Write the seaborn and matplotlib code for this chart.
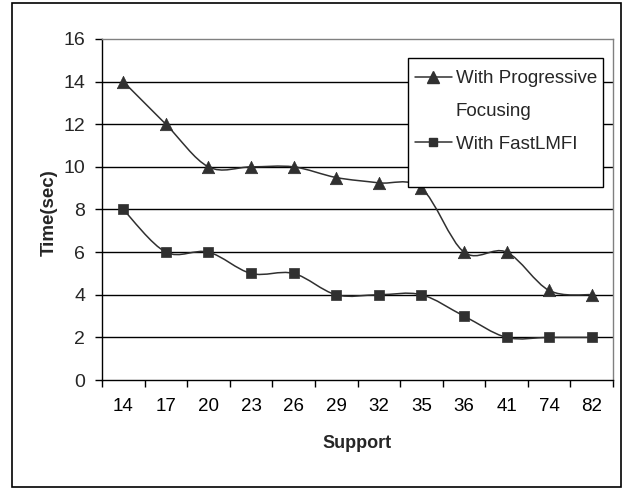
import numpy as np
import seaborn as sns
import matplotlib
matplotlib.use('Agg')
import matplotlib.pyplot as plt
from matplotlib.path import Path
from matplotlib.patches import PathPatch, Rectangle
from matplotlib.lines import Line2D

# Data

support = ['14', '17', '20', '23', '26', '29', '32', '35', '36', '41', '74', '82']
progressive = [14, 12, 10, 10, 10, 9.5, 9.25, 9, 6, 6, 4.2, 4]
fastlmfi = [8, 6, 6, 5, 5, 4, 4, 4, 3, 2, 2, 2]
y_ticks = [0, 2, 4, 6, 8, 10, 12, 14, 16]

sns.set_theme(style='white')
plt.rcParams['font.family'] = ['Liberation Sans', 'DejaVu Sans']

dark = '#303030'


# Excel style smoothed line through the points (bezier segments)

def smooth_path(xs, ys):
    pts = np.column_stack([xs, ys]).astype(float)
    n = len(pts)
    verts = [pts[0]]
    codes = [Path.MOVETO]
    for i in range(n - 1):
        p0 = pts[i - 1] if i > 0 else pts[i]
        p3 = pts[i + 2] if i + 2 < n else pts[i + 1]
        c1 = pts[i] + (pts[i + 1] - p0) / 6
        c2 = pts[i + 1] - (p3 - pts[i]) / 6
        verts += [c1, c2, pts[i + 1]]
        codes += [Path.CURVE4] * 3
    return Path(verts, codes)


fig = plt.figure(figsize=(6.23, 4.88), dpi=100)
ax = fig.add_axes([0.1637, 0.2213, 0.8203, 0.6988])

xpos = np.arange(len(support))

# Lines
for vals in [progressive, fastlmfi]:
    ax.add_patch(PathPatch(smooth_path(xpos, vals), facecolor='none',
                           edgecolor=dark, lw=1.1, zorder=3))

# Markers
sns.scatterplot(x=xpos, y=progressive, marker='^', s=80, color=dark,
                edgecolor=dark, linewidth=0.5, ax=ax, zorder=4)
sns.scatterplot(x=xpos, y=fastlmfi, marker='s', s=55, color=dark,
                edgecolor=dark, linewidth=0.5, ax=ax, zorder=4)

# Axes setup
ax.set_xlim(-0.5, len(support) - 0.5)
ax.set_ylim(0, 16)
ax.set_yticks(y_ticks)
ax.set_yticklabels([str(t) for t in y_ticks], fontsize=14)
ax.set_xticks(xpos)
ax.set_xticklabels(support, fontsize=13.5)
ax.set_xticks(np.arange(-0.5, len(support)), minor=True)
ax.tick_params(axis='x', which='major', length=0, pad=13, colors='black')
ax.tick_params(axis='x', which='minor', length=5, width=1, color='black', bottom=True)
ax.tick_params(axis='y', which='major', length=5, width=1, color='black', pad=7, left=True)

for t in y_ticks[1:-1]:
    ax.axhline(t, color='black', lw=1, zorder=1)

for side in ['left', 'bottom']:
    ax.spines[side].set_color('black')
    ax.spines[side].set_linewidth(1)
for side in ['top', 'right']:
    ax.spines[side].set_color('#808080')
    ax.spines[side].set_linewidth(1)

ax.set_ylabel('Time(sec)', fontsize=13.5, fontweight='bold')
ax.yaxis.set_label_coords(-0.086, 0.49)
ax.set_xlabel('Support', fontsize=13, fontweight='bold')
ax.xaxis.set_label_coords(0.5, -0.16)

# Legend: white box first, then the entries inside it
# (second line of the first label is its own row so the marker sits on line one)
ax.add_patch(Rectangle((0.599, 0.566), 0.381, 0.378, transform=ax.transAxes,
                       facecolor='white', edgecolor='black', lw=1, zorder=5))
handles = [
    Line2D([], [], color=dark, lw=1.1, marker='^', markersize=8, markerfacecolor=dark),
    Line2D([], [], color='none', lw=0),
    Line2D([], [], color=dark, lw=1.1, marker='s', markersize=6, markerfacecolor=dark),
]
leg = ax.legend(handles, ['With Progressive', 'Focusing', 'With FastLMFI'],
                loc='upper left', bbox_to_anchor=(0.612, 0.909), fontsize=13.5,
                frameon=False, handlelength=2.0, handletextpad=0.2,
                borderpad=0, labelspacing=0.83, borderaxespad=0)
leg.set_zorder(6)

# Outer frame round the whole chart
fig.patches.append(Rectangle((12 / 623, 1 / 488), 609 / 623, 484 / 488,
                             transform=fig.transFigure, fill=False,
                             edgecolor='black', lw=1.2))

fig.savefig('out.png', dpi=100)
